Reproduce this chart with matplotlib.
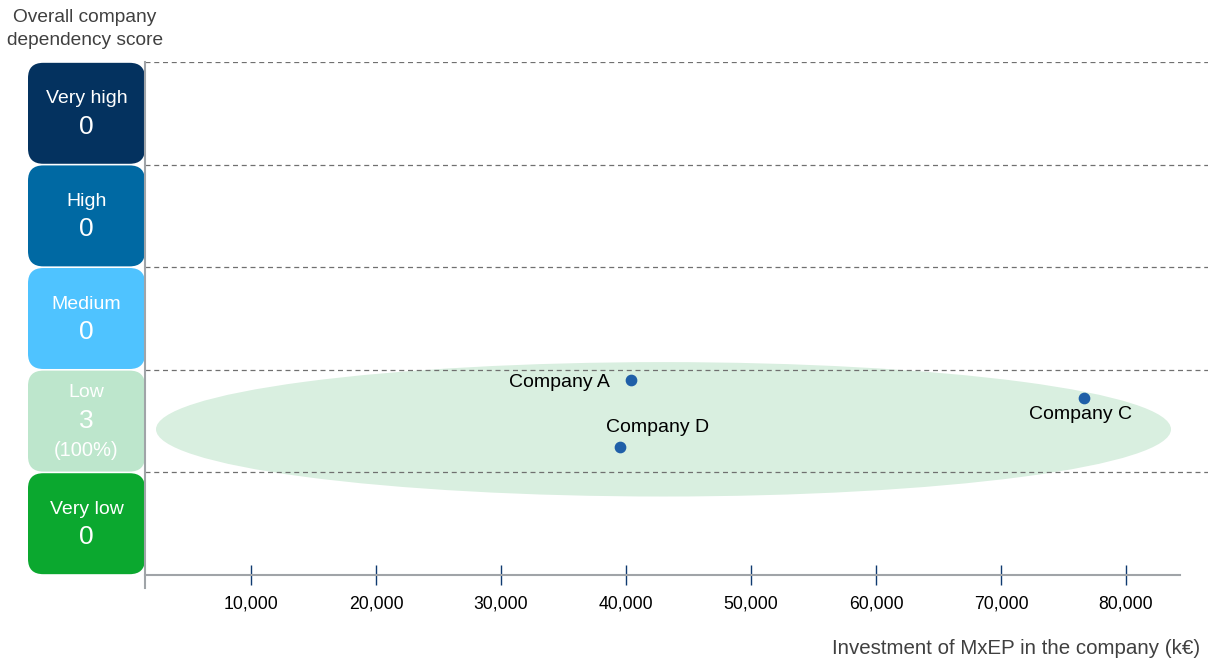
import numpy as np
import matplotlib.pyplot as plt
from matplotlib.patches import FancyBboxPatch, Ellipse
from matplotlib.ticker import FuncFormatter

plt.rcParams['font.family'] = ['Liberation Sans', 'DejaVu Sans']

# dependency levels, bottom to top
levels = ['Very low', 'Low', 'Medium', 'High', 'Very high']
level_colors = ['#0ba82f', '#bde6cc', '#4fc3ff', '#0069a3', '#04325f']
level_counts = [0, 3, 0, 0, 0]

# companies: investment (k€) and score position on the 0-5 scale
companies = ['Company A', 'Company D', 'Company C']
investment = [40400, 39500, 76600]
score = [1.90, 1.25, 1.725]
label_offsets = [(-15, -2, 'right'), (27, 13.7, 'center'), (-2, -12, 'center')]

xticks = [10000, 20000, 30000, 40000, 50000, 60000, 70000, 80000]

W, H = 1208, 661
fig = plt.figure(figsize=(W / 100, H / 100), dpi=100)

def fig_rect(x0, y0, x1, y1):
    return [x0 / W, 1 - y1 / H, (x1 - x0) / W, (y1 - y0) / H]

# score boxes on the left
bax = fig.add_axes(fig_rect(28, 62, 145, 575))
bax.set_xlim(0, 1)
bax.set_ylim(0, 5)
bax.axis('off')
total = sum(level_counts)
for i, (name, col, n) in enumerate(zip(levels, level_colors, level_counts)):
    box = FancyBboxPatch((0.0, i + 0.008), 1.0, 0.984,
                         boxstyle='round,pad=0,rounding_size=0.13',
                         mutation_aspect=1.14, fc=col, ec='none')
    bax.add_patch(box)
    if n > 0:
        bax.text(0.5, i + 0.78, name, ha='center', va='center', color='white', fontsize=14)
        bax.text(0.5, i + 0.50, str(n), ha='center', va='center', color='white', fontsize=19)
        bax.text(0.5, i + 0.21, '({:.0f}%)'.format(100 * n / total), ha='center', va='center',
                 color='white', fontsize=14.5)
    else:
        bax.text(0.5, i + 0.64, name, ha='center', va='center', color='white', fontsize=14)
        bax.text(0.5, i + 0.37, str(n), ha='center', va='center', color='white', fontsize=19)

fig.text(85 / W, 1 - 29 / H, 'Overall company\ndependency score', ha='center', va='center',
         fontsize=13.8, color='#404040', linespacing=1.45)

# main scatter area
ax = fig.add_axes(fig_rect(145, 62, 1208, 575))
x_left = (145 - 126) / 12.5 * 1000
x_right = (1208 - 126) / 12.5 * 1000
x_axis_end = (1180 - 126) / 12.5 * 1000
ax.set_xlim(x_left, x_right)
ax.set_ylim(0, 5)
for s in ax.spines.values():
    s.set_visible(False)
ax.set_yticks([])

for yb in range(1, 6):
    ax.axhline(yb, color='#707070', lw=0.9, ls=(0, (4, 3)), zorder=1)

ax.plot([x_left, x_axis_end], [0, 0], color='#a0a4a8', lw=1.5, clip_on=False, zorder=2)
ax.plot([x_left, x_left], [-0.13, 5], color='#a0a4a8', lw=1.5, clip_on=False, zorder=2)

ax.add_patch(Ellipse((43000, 1.42), 81200, 1.31, fc='#d9efe0', ec='none', zorder=0))

ax.scatter(investment, score, s=55, color='#1f5fa8', zorder=4)
for name, xv, yv, (dx, dy, ha) in zip(companies, investment, score, label_offsets):
    ax.annotate(name, (xv, yv), xytext=(dx, dy), textcoords='offset points',
                ha=ha, va='center', fontsize=14, color='black', zorder=5)

ax.set_xticks(xticks)
ax.xaxis.set_major_formatter(FuncFormatter(lambda v, p: '{:,.0f}'.format(v)))
ax.tick_params(axis='x', direction='inout', length=15, width=1.0, color='#0f3a70',
               labelsize=12.7, labelcolor='black', pad=7)

fig.text(1200 / W, 1 - 648 / H, 'Investment of MxEP in the company (k€)', ha='right', va='center',
         fontsize=14.8, color='#404040')

plt.savefig('out.png', dpi=100)
